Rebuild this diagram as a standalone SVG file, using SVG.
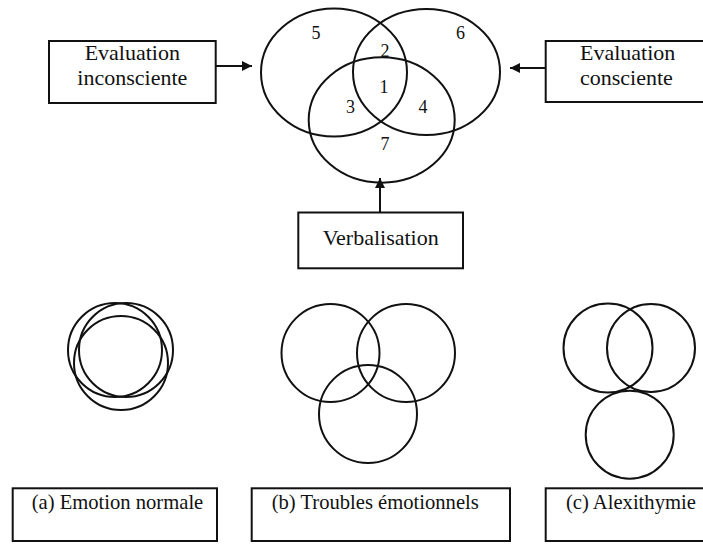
<svg xmlns="http://www.w3.org/2000/svg" width="703" height="545" viewBox="0 0 703 545">
<style>
.s{fill:none;stroke:#111;stroke-width:2}
text{font-family:'Liberation Serif','Times New Roman','DejaVu Serif',serif;fill:#111}
.big{font-size:22px}
.num{font-size:18px;text-anchor:middle}
.lab{font-size:20.6px}
.mid{text-anchor:middle}
</style>
<defs>
<marker id="ah" viewBox="0 0 10 10" refX="10" refY="5" markerWidth="15" markerHeight="10" markerUnits="userSpaceOnUse" orient="auto"><path d="M0,0 L10,5 L0,10 Z" fill="#111"/></marker>
</defs>
<rect width="703" height="545" fill="#fff"/>
<g id="venn-main">
<ellipse class="s" cx="334" cy="72.5" rx="73" ry="64"/>
<ellipse class="s" cx="426.5" cy="72" rx="73.5" ry="63"/>
<ellipse class="s" cx="381.7" cy="120" rx="73" ry="62.7"/>
<text class="num" x="316" y="39">5</text>
<text class="num" x="385" y="56.5">2</text>
<text class="num" x="460.5" y="39">6</text>
<text class="num" x="384" y="93">1</text>
<text class="num" x="350.5" y="113">3</text>
<text class="num" x="423" y="113">4</text>
<text class="num" x="385" y="150">7</text>
</g>
<g id="box-inconsciente">
<rect class="s" x="49" y="41" width="166.7" height="62"/>
<text class="big mid" x="132.3" y="60">Evaluation</text>
<text class="big mid" x="132.3" y="85">inconsciente</text>
</g>
<g id="box-consciente">
<rect class="s" x="545.7" y="41" width="170" height="61"/>
<text class="big" x="580" y="60">Evaluation</text>
<text class="big" x="580" y="85">consciente</text>
</g>
<g id="box-verbalisation">
<rect class="s" x="298.3" y="212.5" width="164.7" height="55.8"/>
<text class="big mid" x="380.7" y="245">Verbalisation</text>
</g>
<g id="connectors">
<line class="s" x1="215.7" y1="66" x2="252" y2="66" marker-end="url(#ah)"/>
<line class="s" x1="545.7" y1="68" x2="510" y2="68" marker-end="url(#ah)"/>
<line class="s" x1="380" y1="212.5" x2="380" y2="178" marker-end="url(#ah)"/>
</g>
<g id="venn-a">
<circle class="s" cx="115" cy="350" r="47"/>
<circle class="s" cx="126" cy="350" r="47"/>
<circle class="s" cx="121" cy="363" r="47"/>
</g>
<g id="venn-b">
<circle class="s" cx="330.5" cy="353" r="49"/>
<circle class="s" cx="406" cy="353" r="49"/>
<circle class="s" cx="368" cy="414" r="49"/>
</g>
<g id="venn-c">
<circle class="s" cx="608" cy="348" r="44.5"/>
<circle class="s" cx="651" cy="348" r="44"/>
<circle class="s" cx="629.7" cy="434.7" r="44"/>
</g>
<g id="box-a">
<rect class="s" x="12.7" y="488.3" width="204.3" height="52.7"/>
<text class="lab" x="31.7" y="509">(a) Emotion normale</text>
</g>
<g id="box-b">
<rect class="s" x="251.7" y="488.3" width="258.3" height="52.7"/>
<text class="lab" x="271.7" y="509">(b) Troubles émotionnels</text>
</g>
<g id="box-c">
<rect class="s" x="545.7" y="488.3" width="170" height="52.7"/>
<text class="lab" x="566" y="509">(c) Alexithymie</text>
</g>
</svg>
